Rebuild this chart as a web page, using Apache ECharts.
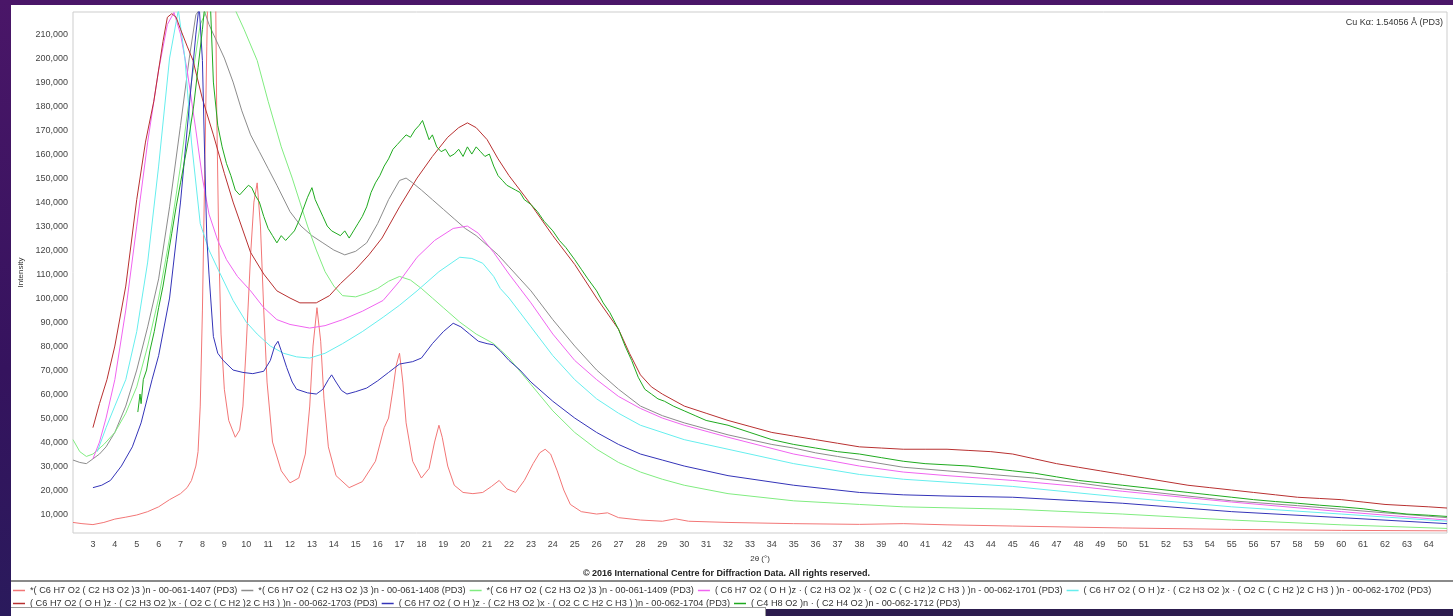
<!DOCTYPE html>
<html>
<head>
<meta charset="utf-8">
<title>XRD patterns</title>
<script src="https://cdn.jsdelivr.net/npm/echarts@6/dist/echarts.min.js"></script>
<style>
  html, body { margin: 0; padding: 0; width: 1453px; height: 616px; overflow: hidden;
    background: linear-gradient(180deg, #4a1668 0%, #35135e 60%, #2a1a5c 100%); }
  #panel { position: absolute; left: 11px; top: 5px; width: 1442px; height: 611px; background: #ffffff; }
  #chart { position: absolute; left: 0; top: 0; width: 1453px; height: 616px; }
</style>
</head>
<body>
<div id="panel"></div>
<div id="chart"></div>
<script>
// 2θ tick positions and intensity tick values
const xTicks = [3,4,5,6,7,8,9,10,11,12,13,14,15,16,17,18,19,20,21,22,23,24,25,26,27,28,29,30,31,32,33,34,35,36,37,38,39,40,41,42,43,44,45,46,47,48,49,50,51,52,53,54,55,56,57,58,59,60,61,62,63,64];
const yTicks = [10000,20000,30000,40000,50000,60000,70000,80000,90000,100000,110000,120000,130000,140000,150000,160000,170000,180000,190000,200000,210000];

// Pattern names (ICDD PDF card references)
const names = [
  '*( C6 H7 O2 ( C2 H3 O2 )3 )n - 00-061-1407 (PD3)',
  '*( C6 H7 O2 ( C2 H3 O2 )3 )n - 00-061-1408 (PD3)',
  '*( C6 H7 O2 ( C2 H3 O2 )3 )n - 00-061-1409 (PD3)',
  '( C6 H7 O2 ( O H )z · ( C2 H3 O2 )x · ( O2 C ( C H2 )2 C H3 ) )n - 00-062-1701 (PD3)',
  '( C6 H7 O2 ( O H )z · ( C2 H3 O2 )x · ( O2 C ( C H2 )2 C H3 ) )n - 00-062-1702 (PD3)',
  '( C6 H7 O2 ( O H )z · ( C2 H3 O2 )x · ( O2 C ( C H2 )2 C H3 ) )n - 00-062-1703 (PD3)',
  '( C6 H7 O2 ( O H )z · ( C2 H3 O2 )x · ( O2 C C H2 C H3 ) )n - 00-062-1704 (PD3)',
  '( C4 H8 O2 )n · ( C2 H4 O2 )n - 00-062-1712 (PD3)'
];
const colors = ['#f27676', '#8c8c8c', '#80ec80', '#f064f0', '#66eeee', '#b83030', '#3434b8', '#1faa1f'];

// [2θ, intensity] pairs for each pattern
const p1407 = [[2.09,6500],[2.5,6000],[3.0,5600],[3.5,6500],[4.0,7900],[4.5,8700],[5.0,9600],[5.5,11000],[6.0,13000],[6.5,16000],[7.0,18500],[7.3,21000],[7.5,24000],[7.7,30000],[7.8,36000],[7.9,55000],[8.0,95000],[8.1,150000],[8.2,205000],[8.25,230000],[8.6,230000],[8.65,180000],[8.75,120000],[8.85,85000],[9.0,62000],[9.2,49000],[9.5,42000],[9.7,45000],[9.85,55000],[10.0,80000],[10.2,118000],[10.35,140000],[10.5,148000],[10.65,130000],[10.8,95000],[10.95,65000],[11.2,40000],[11.6,28000],[12.0,23000],[12.4,25000],[12.7,35000],[12.9,55000],[13.05,80000],[13.23,96000],[13.4,82000],[13.55,58000],[13.75,38000],[14.1,26000],[14.7,21000],[15.3,23500],[15.9,32000],[16.3,46000],[16.5,50000],[16.7,62000],[16.85,72000],[17.0,77000],[17.15,65000],[17.3,48000],[17.6,32000],[18.0,25000],[18.35,29000],[18.6,40000],[18.8,47000],[18.95,42000],[19.2,30000],[19.5,22000],[19.9,19000],[20.35,18500],[20.8,19000],[21.2,21500],[21.55,24000],[21.9,20500],[22.3,19000],[22.7,24000],[23.1,31000],[23.4,35500],[23.65,37000],[23.9,35000],[24.2,28000],[24.5,20000],[24.8,14000],[25.3,11000],[26.0,10000],[26.5,10500],[27.0,8500],[28.0,7500],[29.0,7000],[29.6,8000],[30.2,7000],[32.0,6500],[35.0,6000],[38.0,5700],[40.0,6000],[42.0,5500],[45.0,5000],[50.0,4200],[55.0,3600],[60.0,3200],[64.83,3000]];

const p1408 = [[2.09,32500],[2.4,31500],[2.7,31000],[3.0,33000],[3.3,35000],[3.6,38000],[4.0,44000],[4.5,55000],[5.0,70000],[5.5,88000],[6.0,108000],[6.5,138000],[7.0,172000],[7.4,200000],[7.7,218000],[8.0,222000],[8.3,214000],[8.6,208000],[9.0,200000],[9.4,190000],[9.8,178000],[10.2,168000],[10.6,161000],[11.0,154000],[11.4,147000],[12.0,136000],[12.5,130000],[13.0,126000],[13.5,123000],[14.0,120000],[14.5,118000],[15.0,119500],[15.5,123000],[16.0,131000],[16.5,141000],[17.0,149000],[17.3,150000],[17.6,148000],[18.0,145000],[18.5,141000],[19.0,137000],[19.5,133000],[20.0,129000],[20.5,126000],[21.0,122000],[21.5,118000],[22.0,113000],[22.5,108000],[23.0,103000],[24.0,91000],[25.0,80000],[26.0,70000],[27.0,62000],[28.0,55000],[29.0,51000],[30.0,48000],[31.0,45500],[32.0,43000],[33.0,41000],[34.0,39000],[35.0,37500],[36.0,35500],[37.0,34000],[38.0,32500],[40.0,29500],[42.0,28000],[44.0,26500],[46.0,25000],[48.0,23000],[50.0,20500],[52.0,18500],[55.0,15500],[58.0,13500],[60.0,12000],[62.0,10500],[64.83,8500]];

const p1409 = [[2.09,41000],[2.4,36000],[2.7,34000],[3.0,35000],[3.5,39000],[4.0,44000],[4.5,52000],[5.0,63000],[5.5,80000],[6.0,100000],[6.5,125000],[7.0,155000],[7.5,190000],[7.9,214000],[8.3,222000],[9.0,222000],[9.5,220000],[9.9,212000],[10.5,199000],[11.0,182000],[11.6,163000],[12.1,150000],[12.45,140000],[12.8,130000],[13.2,120000],[13.6,111000],[14.0,105000],[14.4,101000],[15.0,100500],[15.5,102000],[16.0,104000],[16.5,107000],[17.0,109000],[17.5,107500],[18.0,104000],[18.5,100000],[19.0,96000],[19.75,90000],[20.5,85000],[21.3,81000],[22.0,75000],[23.0,64000],[24.0,53000],[25.0,44000],[26.0,37000],[27.0,31500],[28.0,27500],[29.0,24500],[30.0,22000],[32.0,18500],[35.0,15500],[38.0,14000],[40.0,13000],[45.0,12000],[50.0,10000],[55.0,7500],[60.0,5500],[64.83,4000]];

const p1701 = [[3.0,33000],[3.3,40000],[3.6,50000],[4.0,66000],[4.5,95000],[5.0,130000],[5.5,165000],[6.0,195000],[6.4,214000],[6.7,219000],[7.0,210000],[7.3,195000],[7.7,170000],[8.0,150000],[8.3,135000],[8.7,124000],[9.1,116000],[9.6,109000],[10.2,103000],[10.8,96000],[11.4,91000],[12.0,89000],[12.9,87500],[13.6,88500],[14.4,91000],[15.3,94500],[16.25,99000],[17.0,107000],[17.8,117000],[18.6,124000],[19.45,129000],[20.1,130000],[20.6,127000],[21.3,119000],[22.0,110000],[23.0,98000],[24.0,85000],[25.0,74000],[26.0,66000],[27.0,59000],[28.0,54000],[29.0,50000],[30.0,47000],[32.0,42000],[35.0,35000],[38.0,30000],[40.0,27500],[42.0,26000],[45.0,24000],[48.0,21500],[50.0,19500],[55.0,15000],[60.0,11000],[64.83,7500]];

const p1702 = [[3.2,36000],[3.6,46000],[4.0,55000],[4.5,66000],[5.0,86000],[5.5,115000],[6.0,155000],[6.5,200000],[6.9,220000],[7.2,200000],[7.5,165000],[7.9,131000],[8.3,120000],[8.66,113000],[9.4,99000],[10.0,90000],[10.5,85000],[11.1,80000],[11.7,77000],[12.3,75500],[12.9,75000],[13.6,77000],[14.4,81000],[15.3,86000],[16.25,92000],[17.0,97000],[17.8,103000],[18.8,111000],[19.75,117000],[20.3,116500],[20.8,114500],[21.3,109000],[21.6,104000],[22.0,100000],[23.0,88000],[24.0,76000],[25.0,66000],[26.0,58000],[27.0,52000],[28.0,47000],[30.0,41000],[32.0,37000],[35.0,31000],[38.0,26500],[40.0,24500],[45.0,21500],[50.0,17000],[55.0,13000],[60.0,10000],[64.83,7000]];

const p1703 = [[3.0,46000],[3.3,56000],[3.64,66000],[4.0,80000],[4.5,105000],[5.0,141000],[5.4,165000],[5.78,182000],[6.2,207000],[6.4,217000],[6.6,218500],[6.8,217000],[7.0,212000],[7.3,205000],[7.57,199000],[8.0,183000],[8.5,168000],[9.0,152000],[9.4,140000],[10.2,119000],[10.8,110000],[11.4,103000],[12.0,100000],[12.45,98000],[13.2,98000],[13.8,101000],[14.3,106000],[15.0,112000],[15.6,118000],[16.2,125000],[17.0,138000],[17.8,150000],[18.5,159000],[19.2,167000],[19.7,171000],[20.1,173000],[20.5,171000],[21.0,166000],[21.5,158000],[22.0,151000],[23.0,139000],[24.0,126000],[25.0,114000],[26.0,100000],[27.0,87000],[27.5,77000],[28.0,68000],[28.5,63000],[29.0,60000],[30.0,55000],[31.0,52000],[32.0,49000],[33.0,46500],[34.0,44000],[35.0,42500],[36.0,41000],[37.0,39500],[38.0,38000],[39.0,37500],[40.0,37000],[41.0,37000],[42.0,37000],[43.0,36500],[44.0,36000],[45.0,35000],[46.0,33000],[47.0,31000],[48.0,29500],[49.0,28000],[50.0,26500],[51.0,25000],[52.0,23500],[53.0,22000],[54.0,21000],[55.0,20000],[56.0,19000],[57.0,18000],[58.0,17000],[59.0,16500],[60.0,16000],[61.0,15000],[62.0,14000],[63.0,13500],[64.0,13000],[64.83,12500]];

const p1704 = [[3.0,21000],[3.4,22000],[3.8,24000],[4.3,30000],[4.8,38000],[5.2,48000],[5.7,66000],[6.0,76000],[6.5,100000],[7.0,140000],[7.4,180000],[7.7,210000],[7.85,222000],[8.0,199000],[8.1,160000],[8.2,125000],[8.3,110000],[8.5,84000],[8.7,77000],[8.95,74000],[9.4,70000],[9.85,69000],[10.3,68500],[10.8,69500],[11.1,74000],[11.3,80000],[11.45,82000],[11.6,78000],[11.85,71000],[12.1,65000],[12.3,62000],[12.8,60500],[13.2,60000],[13.5,62000],[13.75,66000],[13.9,68000],[14.1,65000],[14.35,61500],[14.6,60000],[15.0,61000],[15.5,62500],[16.0,65500],[16.5,69000],[17.0,72500],[17.6,73500],[18.0,75000],[18.5,81000],[19.0,86000],[19.45,89500],[19.8,88000],[20.2,85000],[20.6,82000],[21.0,81000],[21.3,80500],[21.6,78000],[22.0,74000],[22.5,70000],[23.0,65000],[24.0,57000],[25.0,50000],[26.0,44000],[27.0,39000],[28.0,35000],[29.0,32500],[30.0,30000],[32.0,26000],[35.0,22000],[38.0,19000],[40.0,18000],[42.0,17500],[45.0,17000],[48.0,15500],[50.0,14500],[55.0,11000],[60.0,8500],[64.83,6000]];

const p1712 = [[5.05,52500],[5.15,60000],[5.2,56000],[5.3,66000],[5.45,70000],[5.6,78000],[5.8,86000],[6.0,96000],[6.2,105000],[6.4,116000],[6.6,127000],[6.8,138000],[7.0,148000],[7.2,158000],[7.4,168000],[7.6,180000],[7.8,196000],[8.0,212000],[8.15,226000],[8.35,226000],[8.5,190000],[8.7,172000],[8.9,163000],[9.1,156000],[9.3,151000],[9.5,145000],[9.7,143000],[9.9,145000],[10.1,147000],[10.25,146000],[10.4,143000],[10.6,140000],[10.8,134000],[11.0,129000],[11.2,126000],[11.4,123000],[11.6,126000],[11.8,124000],[12.0,126000],[12.2,128000],[12.4,132000],[12.6,137000],[12.8,142000],[13.0,146000],[13.15,141000],[13.3,138000],[13.5,134000],[13.7,130000],[13.9,128000],[14.1,127000],[14.3,126000],[14.5,128000],[14.7,125000],[14.9,128000],[15.1,131000],[15.3,134000],[15.5,138000],[15.7,144000],[15.9,148000],[16.1,151000],[16.3,155000],[16.5,158000],[16.7,162000],[16.9,164000],[17.1,166000],[17.3,168000],[17.5,167000],[17.7,170000],[17.9,172000],[18.05,174000],[18.2,170000],[18.35,166000],[18.5,168000],[18.7,163000],[18.9,161000],[19.1,162000],[19.3,159000],[19.5,160000],[19.7,162000],[19.9,159000],[20.1,163000],[20.3,160000],[20.5,163000],[20.7,161000],[20.9,159000],[21.1,160000],[21.3,155000],[21.5,151000],[21.7,149000],[21.9,147000],[22.1,146000],[22.3,145000],[22.5,144000],[22.7,141000],[23.0,139000],[23.3,136000],[23.6,132000],[24.0,128000],[24.3,124000],[24.6,121000],[25.0,116000],[25.3,112000],[25.6,108000],[26.0,103000],[26.3,98000],[26.6,94000],[27.0,87000],[27.3,80000],[27.6,74000],[27.9,67000],[28.2,62000],[28.5,60000],[28.8,58000],[29.1,57000],[29.5,55000],[30.0,53000],[30.5,51000],[31.0,49000],[31.5,48000],[32.0,47000],[32.5,45500],[33.0,44000],[33.5,42500],[34.0,41000],[35.0,39000],[36.0,37500],[37.0,36000],[38.0,35000],[39.0,33500],[40.0,32000],[41.0,31000],[42.0,30500],[43.0,30000],[44.0,29000],[45.0,28000],[46.0,27000],[47.0,25500],[48.0,24000],[49.0,23000],[50.0,22000],[51.0,21000],[52.0,20000],[53.0,19000],[54.0,18000],[55.0,17000],[56.0,16000],[57.0,15200],[58.0,14500],[59.0,13700],[60.0,13000],[61.0,12200],[62.0,11000],[63.0,10000],[64.0,9500],[64.83,9000]];

const patterns = [p1407, p1408, p1409, p1701, p1702, p1703, p1704, p1712];

const chart = echarts.init(document.getElementById('chart'), null, { renderer: 'canvas' });
const FONT = 'Liberation Sans, Arial, sans-serif';

chart.setOption({
  animation: false,
  backgroundColor: 'transparent',
  grid: { left: 73, right: 6, top: 12, bottom: 83, show: true, borderColor: '#cdcdcd', borderWidth: 1 },
  xAxis: {
    type: 'value', min: 2.09, max: 64.83,
    axisLine: { show: false }, axisTick: { show: false }, splitLine: { show: false },
    axisLabel: { customValues: xTicks, fontSize: 9, color: '#444', fontFamily: FONT, margin: 7 },
    name: '2θ (°)', nameLocation: 'middle', nameGap: 22,
    nameTextStyle: { fontSize: 8, color: '#333', fontFamily: FONT }
  },
  yAxis: {
    type: 'value', min: 2100, max: 219200,
    axisLine: { show: false }, axisTick: { show: false }, splitLine: { show: false },
    axisLabel: { customValues: yTicks, fontSize: 9, color: '#444', fontFamily: FONT, margin: 5,
      formatter: v => Math.round(v).toLocaleString('en-US') },
    name: 'Intensity', nameLocation: 'middle', nameGap: 46, nameRotate: 90,
    nameTextStyle: { fontSize: 8, color: '#333', fontFamily: FONT }
  },
  legend: {
    data: names, left: 13, top: 586, width: 1436,
    icon: 'rect', itemWidth: 12, itemHeight: 1.5, itemGap: 4, padding: 0,
    textStyle: { fontSize: 9.2, color: '#333', fontFamily: FONT, lineHeight: 8 }
  },
  graphic: [
    { type: 'text', right: 10, top: 18, z: 100,
      style: { text: 'Cu Kα: 1.54056 Å (PD3)', fontSize: 9, fill: '#333', fontFamily: FONT } },
    { type: 'text', left: 'center', top: 569, z: 100,
      style: { text: '© 2016 International Centre for Diffraction Data. All rights reserved.',
        fontSize: 9, fontWeight: 'bold', fill: '#222', fontFamily: FONT, x: 0 } },
    { type: 'rect', z: 100, shape: { x: 11, y: 580, width: 1442, height: 2 }, style: { fill: '#8a8a8a' } },
    { type: 'rect', z: 100, shape: { x: 11, y: 607, width: 755, height: 9 }, style: { fill: '#ffffff' } },
    { type: 'rect', z: 100, shape: { x: 11, y: 607, width: 755, height: 1 }, style: { fill: '#9a9a9a' } },
    { type: 'rect', z: 100, shape: { x: 765, y: 607, width: 1, height: 9 }, style: { fill: '#9a9a9a' } },
    { type: 'rect', z: 100, shape: { x: 766, y: 609, width: 687, height: 7 }, style: { fill: '#2c1c4e' } }
  ],
  series: patterns.map((d, i) => ({
    name: names[i], type: 'line', data: d, showSymbol: false, symbol: 'none',
    clip: true, smooth: false,
    lineStyle: { width: 1, color: colors[i] }, itemStyle: { color: colors[i] },
    emphasis: { disabled: true }
  }))
});
</script>
</body>
</html>
